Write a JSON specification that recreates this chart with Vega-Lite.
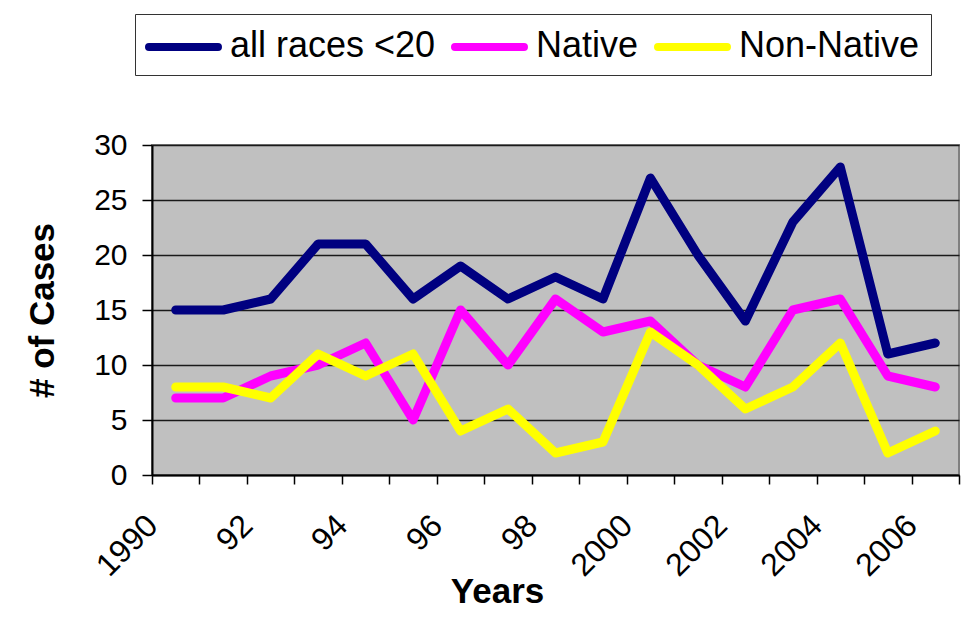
{
  "$schema": "https://vega.github.io/schema/vega-lite/v6.json",
  "autosize": {"type": "none"},
  "width": 807,
  "height": 330,
  "padding": {"left": 152, "top": 145, "right": 15, "bottom": 149},
  "background": "white",
  "config": {
    "font": "Liberation Sans",
    "view": {"fill": "#C0C0C0", "stroke": "#808080", "strokeWidth": 2}
  },
  "data": {
    "values": [
      {"year": 1990, "group": "all races <20", "cases": 15},
      {"year": 1991, "group": "all races <20", "cases": 15},
      {"year": 1992, "group": "all races <20", "cases": 16},
      {"year": 1993, "group": "all races <20", "cases": 21},
      {"year": 1994, "group": "all races <20", "cases": 21},
      {"year": 1995, "group": "all races <20", "cases": 16},
      {"year": 1996, "group": "all races <20", "cases": 19},
      {"year": 1997, "group": "all races <20", "cases": 16},
      {"year": 1998, "group": "all races <20", "cases": 18},
      {"year": 1999, "group": "all races <20", "cases": 16},
      {"year": 2000, "group": "all races <20", "cases": 27},
      {"year": 2001, "group": "all races <20", "cases": 20},
      {"year": 2002, "group": "all races <20", "cases": 14},
      {"year": 2003, "group": "all races <20", "cases": 23},
      {"year": 2004, "group": "all races <20", "cases": 28},
      {"year": 2005, "group": "all races <20", "cases": 11},
      {"year": 2006, "group": "all races <20", "cases": 12},
      {"year": 1990, "group": "Native", "cases": 7},
      {"year": 1991, "group": "Native", "cases": 7},
      {"year": 1992, "group": "Native", "cases": 9},
      {"year": 1993, "group": "Native", "cases": 10},
      {"year": 1994, "group": "Native", "cases": 12},
      {"year": 1995, "group": "Native", "cases": 5},
      {"year": 1996, "group": "Native", "cases": 15},
      {"year": 1997, "group": "Native", "cases": 10},
      {"year": 1998, "group": "Native", "cases": 16},
      {"year": 1999, "group": "Native", "cases": 13},
      {"year": 2000, "group": "Native", "cases": 14},
      {"year": 2001, "group": "Native", "cases": 10},
      {"year": 2002, "group": "Native", "cases": 8},
      {"year": 2003, "group": "Native", "cases": 15},
      {"year": 2004, "group": "Native", "cases": 16},
      {"year": 2005, "group": "Native", "cases": 9},
      {"year": 2006, "group": "Native", "cases": 8},
      {"year": 1990, "group": "Non-Native", "cases": 8},
      {"year": 1991, "group": "Non-Native", "cases": 8},
      {"year": 1992, "group": "Non-Native", "cases": 7},
      {"year": 1993, "group": "Non-Native", "cases": 11},
      {"year": 1994, "group": "Non-Native", "cases": 9},
      {"year": 1995, "group": "Non-Native", "cases": 11},
      {"year": 1996, "group": "Non-Native", "cases": 4},
      {"year": 1997, "group": "Non-Native", "cases": 6},
      {"year": 1998, "group": "Non-Native", "cases": 2},
      {"year": 1999, "group": "Non-Native", "cases": 3},
      {"year": 2000, "group": "Non-Native", "cases": 13},
      {"year": 2001, "group": "Non-Native", "cases": 10},
      {"year": 2002, "group": "Non-Native", "cases": 6},
      {"year": 2003, "group": "Non-Native", "cases": 8},
      {"year": 2004, "group": "Non-Native", "cases": 12},
      {"year": 2005, "group": "Non-Native", "cases": 2},
      {"year": 2006, "group": "Non-Native", "cases": 4}
    ]
  },
  "mark": {"type": "line", "strokeWidth": 9, "strokeCap": "round", "strokeJoin": "round"},
  "encoding": {
    "x": {
      "field": "year",
      "type": "ordinal",
      "bandPosition": 0.5,
      "scale": {"type": "band", "paddingInner": 0, "paddingOuter": 0},
      "axis": {
        "title": "Years",
        "titleFont": "Liberation Sans",
        "titleFontSize": 35,
        "titleFontWeight": "bold",
        "titleColor": "black",
        "titleX": 345,
        "titleY": 127,
        "titleAlign": "center",
        "titleBaseline": "alphabetic",
        "tickBand": "extent",
        "ticks": true,
        "tickSize": 9,
        "tickColor": "black",
        "tickWidth": 1.5,
        "domainColor": "black",
        "domainWidth": 2,
        "grid": false,
        "labelAngle": -45,
        "labelAlign": "right",
        "labelBaseline": "middle",
        "labelFontSize": 32,
        "labelColor": "black",
        "labelPadding": 36,
        "labelOffset": -23.75,
        "labelOverlap": false,
        "labelBound": false,
        "labelFlush": false,
        "labelExpr": "(isValid(datum.value) && datum.value >= 1990 && datum.value <= 2006 && datum.value % 2 == 0) ? ((datum.value == 1990 || datum.value >= 2000) ? '' + datum.value : '' + (datum.value - 1900)) : ''"
      }
    },
    "y": {
      "field": "cases",
      "type": "quantitative",
      "scale": {"domain": [0, 30], "nice": false},
      "axis": {
        "title": "# of Cases",
        "titleFont": "Liberation Sans",
        "titleFontSize": 35,
        "titleFontWeight": "bold",
        "titleColor": "black",
        "titleAngle": -90,
        "titleX": -99,
        "titleY": 165,
        "titleAlign": "center",
        "titleBaseline": "alphabetic",
        "values": [0, 5, 10, 15, 20, 25, 30],
        "tickSize": 10,
        "tickColor": "black",
        "tickWidth": 1.5,
        "domainColor": "black",
        "domainWidth": 2,
        "grid": true,
        "gridColor": "#1a1a1a",
        "gridWidth": 1.5,
        "labelFontSize": 30,
        "labelColor": "black",
        "labelPadding": 15,
        "labelBaseline": "middle"
      }
    },
    "color": {
      "field": "group",
      "type": "nominal",
      "scale": {
        "domain": ["all races <20", "Native", "Non-Native"],
        "range": ["#000080", "#FF00FF", "#FFFF00"]
      },
      "legend": {
        "title": null,
        "orient": "none",
        "direction": "horizontal",
        "legendX": -17,
        "legendY": -131,
        "symbolType": "M-1.045,-0.18H2.09",
        "symbolStrokeWidth": 8,
        "symbolSize": 1936,
        "symbolFillColor": "transparent",
        "labelFont": "Liberation Sans",
        "labelFontSize": 36,
        "labelColor": "black",
        "labelLimit": 400,
        "labelOffset": 32,
        "columnPadding": 3,
        "padding": 11,
        "strokeColor": "#333333",
        "fillColor": "white",
        "encode": {
          "symbols": {"update": {"strokeCap": {"value": "round"}, "fill": {"value": "transparent"}}},
          "labels": {"update": {"dy": {"value": -5}}}
        }
      }
    }
  }
}
